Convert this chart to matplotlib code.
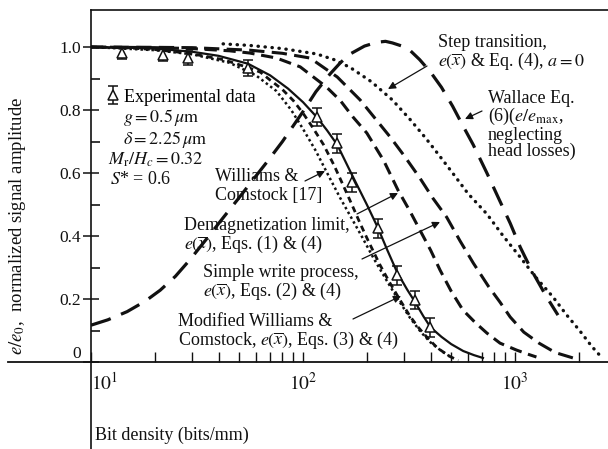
import matplotlib
matplotlib.use("Agg")
import matplotlib.pyplot as plt
from matplotlib.ticker import FixedLocator, NullFormatter

plt.rcParams["font.family"] = ["Liberation Serif", "DejaVu Serif"]
plt.rcParams["mathtext.fontset"] = "stix"

W, H = 608, 449

# experimental points (bits/mm, e/e0) with error bar half-heights
exp_x = [14.0, 21.9, 28.7, 55.0, 116.5, 144.7, 170, 225.8, 277.6, 337.6, 397]
exp_y = [0.981, 0.975, 0.965, 0.933, 0.778, 0.695, 0.571, 0.425, 0.276, 0.197, 0.111]
exp_err = [0.02, 0.02, 0.022, 0.025, 0.03, 0.03, 0.03, 0.03, 0.03, 0.03, 0.03]

# Williams & Comstock [17] (dotted)
wc_x = [10, 20, 30, 45, 60, 75, 88, 100, 115, 130, 150, 170, 190, 215, 245, 280, 320, 360, 400, 450, 500]
wc_y = [1.0, 0.99, 0.977, 0.95, 0.91, 0.86, 0.8, 0.74, 0.67, 0.6, 0.52, 0.455, 0.397, 0.33, 0.265, 0.2, 0.14, 0.095, 0.062, 0.035, 0.015]

# Modified Williams & Comstock (short dashes)
mwc_x = [10, 15, 20, 29, 42, 55, 63, 70, 80, 90, 100, 111, 125, 140, 155, 170, 186, 203, 230, 255, 285, 320, 350, 384, 430, 492, 540]
mwc_y = [1.0, 0.997, 0.992, 0.98, 0.96, 0.935, 0.92, 0.895, 0.865, 0.83, 0.79, 0.745, 0.69, 0.625, 0.56, 0.5, 0.44, 0.385, 0.31, 0.255, 0.2, 0.145, 0.11, 0.079, 0.045, 0.018, 0.005]

# solid curve through the data
sol_x = [10, 15, 20, 30, 40, 55, 70, 85, 100, 116, 130, 145, 170, 200, 226, 250, 278, 310, 338, 370, 400, 450, 500, 570, 640, 706]
sol_y = [1.0, 0.998, 0.995, 0.985, 0.972, 0.947, 0.91, 0.868, 0.825, 0.778, 0.735, 0.69, 0.595, 0.5, 0.425, 0.355, 0.285, 0.23, 0.19, 0.145, 0.11, 0.08, 0.057, 0.035, 0.022, 0.013]

# demagnetization limit
dem_x = [10, 20, 30, 45, 56, 75, 97, 129, 150, 172, 200, 240, 281, 320, 356, 400, 443, 500, 568, 650, 737, 850, 1017, 1150, 1262]
dem_y = [1.0, 0.998, 0.995, 0.988, 0.981, 0.965, 0.937, 0.873, 0.83, 0.778, 0.727, 0.64, 0.545, 0.478, 0.419, 0.355, 0.292, 0.225, 0.165, 0.125, 0.092, 0.06, 0.038, 0.025, 0.016]

# simple write process
swp_x = [10, 20, 30, 56, 80, 108, 145, 186, 258, 300, 356, 410, 476, 550, 636, 750, 850, 949, 1100, 1298, 1550, 1878]
swp_y = [1.0, 0.999, 0.998, 0.99, 0.98, 0.965, 0.905, 0.832, 0.714, 0.655, 0.584, 0.52, 0.46, 0.385, 0.314, 0.24, 0.19, 0.143, 0.095, 0.06, 0.03, 0.013]

# step transition (dotted)
stp_x = [42, 56, 80, 116, 140, 167, 210, 264, 320, 380, 440, 508, 600, 737, 880, 1058, 1250, 1513, 1750, 2017, 2300, 2600]
stp_y = [1.01, 1.005, 0.995, 0.978, 0.96, 0.935, 0.89, 0.832, 0.77, 0.71, 0.655, 0.6, 0.535, 0.47, 0.4, 0.333, 0.27, 0.206, 0.15, 0.1, 0.05, 0.01]

# Wallace Eq. (6)
wal_x = [10, 12, 14.8, 18, 21.2, 25, 29.3, 35, 42, 50, 58, 67.6, 80, 100, 115, 134, 150, 167, 195, 223, 245, 264, 290, 319, 355, 400, 450, 508, 568, 635, 737, 850, 950, 1058, 1200, 1400, 1595]
wal_y = [0.117, 0.134, 0.16, 0.193, 0.228, 0.272, 0.325, 0.39, 0.458, 0.522, 0.578, 0.635, 0.7, 0.795, 0.858, 0.914, 0.95, 0.978, 1.003, 1.015, 1.018, 1.013, 1.004, 0.99, 0.96, 0.92, 0.872, 0.812, 0.75, 0.69, 0.6, 0.51, 0.44, 0.365, 0.29, 0.21, 0.149]

y_ticks = [0, 0.2, 0.4, 0.6, 0.8, 1.0]
y_labels = ["0", "0.2", "0.4", "0.6", "0.8", "1.0"]
x_ticks = [10, 100, 1000]
x_labels = [r"$10^{1}$", r"$10^{2}$", r"$10^{3}$"]


def P(x, y):
    # pixel position in the 608x449 image -> figure fraction
    return (x / W, 1 - y / H)


fig = plt.figure(figsize=(W / 100, H / 100), dpi=100)
ax = fig.add_axes([91 / W, 0, 517 / W, 439 / H])
ax.set_xscale("log")
ax.set_xlim(10, 2746)
ax.set_ylim(-0.276, 1.1175)

k = "#111111"
ax.plot(wc_x, wc_y, color=k, lw=1.8, dashes=(1.0, 1.2))
ax.plot(mwc_x, mwc_y, color=k, lw=2.0, dashes=(2.2, 1.6))
ax.plot(sol_x, sol_y, color=k, lw=1.6)
ax.plot(dem_x, dem_y, color=k, lw=2.2, dashes=(4.0, 2.2))
ax.plot(swp_x, swp_y, color=k, lw=2.2, dashes=(5.0, 2.4))
ax.plot(stp_x, stp_y, color=k, lw=2.4, dashes=(0.1, 2.0), dash_capstyle="round")
ax.plot(wal_x, wal_y, color=k, lw=2.3, dashes=(6.5, 3.5))

eb = ax.errorbar(exp_x, exp_y, yerr=exp_err, fmt="^", ms=7, mfc="white",
                 mec=k, mew=1.1, ecolor=k, elinewidth=1.1, capsize=3.5,
                 capthick=1.1, zorder=5)

# spines / axis lines
ax.spines["right"].set_visible(False)
ax.spines["bottom"].set_position(("data", 0))
ax.spines["bottom"].set_visible(False)
ax.axhline(0, xmin=-0.161, xmax=1, color=k, lw=1.3, clip_on=False)
for side in ["left", "top"]:
    ax.spines[side].set_linewidth(1.2)
    ax.spines[side].set_color(k)

ax.set_yticks(y_ticks, labels=y_labels)
ax.yaxis.set_minor_locator(FixedLocator([0.1, 0.3, 0.5, 0.7, 0.9]))
ax.tick_params(axis="y", which="major", direction="inout", length=11, width=1.1,
               pad=1.5, labelsize=12.5, colors=k)
ax.tick_params(axis="y", which="minor", direction="in", length=6.5, width=1.1)
ax.get_yticklabels()[0].set_verticalalignment("bottom")

ax.set_xticks(x_ticks, labels=x_labels)
ax.xaxis.set_minor_formatter(NullFormatter())
ax.tick_params(axis="x", which="both", direction="in", length=7, width=1.0,
               pad=7, labelsize=14, colors=k)
ax.get_xticklabels()[0].set_horizontalalignment("left")

fs = 13
ax.legend(handles=[eb], labels=["Experimental data"], loc="center left",
          bbox_to_anchor=P(107, 97), bbox_transform=fig.transFigure,
          frameon=False, fontsize=fs, handlelength=0.7, handletextpad=0.25,
          borderpad=0, borderaxespad=0)

txt = dict(transform=fig.transFigure, fontsize=fs, color=k, ha="left", va="center")
fig.text(*P(123, 118), r"$g = 0.5\,\mu\mathrm{m}$", **txt)
fig.text(*P(123, 140), r"$\delta = 2.25\,\mu\mathrm{m}$", **txt)
fig.text(*P(108, 160), r"$M_{\mathrm{r}}/H_{c} = 0.32$", **txt)
fig.text(*P(110, 180), r"$S$* = 0.6", **txt)
fig.text(*P(215, 186), "Williams &\nComstock [17]", linespacing=1.1, **txt)
fig.text(*P(184, 236), "Demagnetization limit,\n" + r"$e(\overline{x})$, Eqs. (1) & (4)",
         linespacing=1.05, **txt)
fig.text(*P(203, 283), "Simple write process,\n" + r"$e(\overline{x})$, Eqs. (2) & (4)",
         linespacing=1.05, **txt)
fig.text(*P(178, 332), "Modified Williams &\n" + r"Comstock, $e(\overline{x})$, Eqs. (3) & (4)",
         linespacing=1.05, **txt)
fig.text(*P(438, 53), "Step transition,\n" + r"$e(\overline{x})$ & Eq. (4), $a = 0$",
         linespacing=1.05, **txt)
fig.text(*P(488, 125), "Wallace Eq.\n" + r"(6)($e/e_{\mathrm{max}}$," + "\nneglecting\nhead losses)",
         linespacing=0.95, **txt)
fig.text(*P(95, 435), "Bit density (bits/mm)", **txt)
fig.text(*P(18, 226), r"$e/e_{0}$,  normalized signal amplitude", transform=fig.transFigure,
         fontsize=13.5, color=k, rotation=90, ha="center", va="center")

arrows = [((427, 66), (388, 89)), ((482, 111), (465, 119)), ((305, 181), (325, 171)),
          ((357, 214), (398, 193)), ((362, 259), (440, 222)), ((353, 319), (401, 296))]
for tail, head in arrows:
    ax.annotate("", xy=P(*head), xycoords="figure fraction", xytext=P(*tail),
                textcoords="figure fraction",
                arrowprops=dict(arrowstyle="-|>", lw=0.9, color=k, mutation_scale=11,
                                shrinkA=0, shrinkB=0))

fig.savefig("out.png", dpi=100)
